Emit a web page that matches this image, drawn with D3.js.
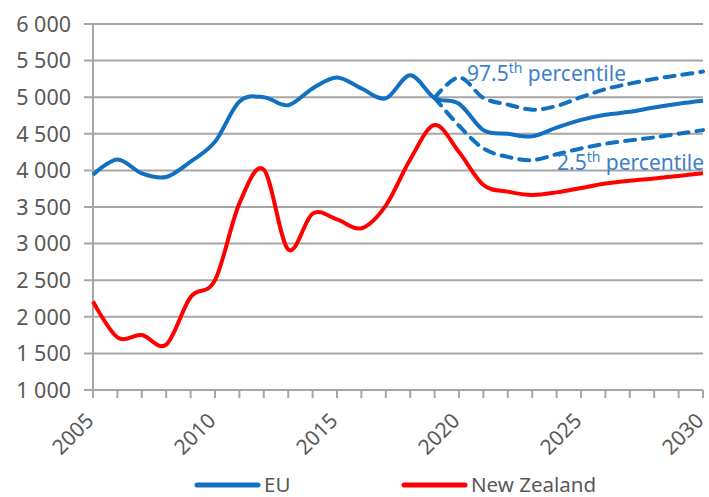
<!DOCTYPE html>
<html>
<head>
<meta charset="utf-8">
<script src="https://cdn.jsdelivr.net/npm/d3@7"></script>
<style>
  body { margin: 0; background: #fff; }
  svg text { font-family: "Noto Sans", sans-serif; }
</style>
</head>
<body>
<div id="chart"></div>
<script>
// years on the x axis
var years = [2005, 2006, 2007, 2008, 2009, 2010, 2011, 2012, 2013, 2014, 2015, 2016, 2017,
             2018, 2019, 2020, 2021, 2022, 2023, 2024, 2025, 2026, 2027, 2028, 2029, 2030];
var projYears = [2019, 2020, 2021, 2022, 2023, 2024, 2025, 2026, 2027, 2028, 2029, 2030];

// EU (history + median projection) and New Zealand
var eu = [3940, 4150, 3960, 3910, 4120, 4390, 4940, 5000, 4890, 5120, 5270, 5120, 4985,
          5300, 4990, 4910, 4550, 4500, 4465, 4585, 4690, 4760, 4800, 4860, 4910, 4950];
var nz = [2210, 1720, 1750, 1620, 2270, 2500, 3550, 4010, 2920, 3410, 3330, 3210, 3520,
          4150, 4620, 4250, 3800, 3710, 3665, 3700, 3760, 3820, 3860, 3890, 3925, 3960];

// EU percentile bands, from 2019
var p975 = [4990, 5270, 4990, 4900, 4830, 4880, 5000, 5110, 5185, 5250, 5300, 5350];
var p25 = [4990, 4610, 4300, 4185, 4140, 4220, 4300, 4365, 4410, 4450, 4500, 4550];

var yTicks = [1000, 1500, 2000, 2500, 3000, 3500, 4000, 4500, 5000, 5500, 6000];
var xLabels = [2005, 2010, 2015, 2020, 2025, 2030];
var seriesNames = ["EU", "New Zealand"];

var blue = "#1170c0", red = "#ff0000", grey = "#a6a6a6", textCol = "#595959", noteCol = "#3f7fca";

var width = 709, height = 497;
var margin = {top: 24, right: 6, bottom: 107, left: 93};

var x = d3.scaleLinear().domain([2005, 2030]).range([margin.left, width - margin.right]);
var y = d3.scaleLinear().domain([1000, 6000]).range([height - margin.bottom, margin.top]);

var fmt = d3.formatLocale({decimal: ".", thousands: "\u00a0", grouping: [3], currency: ["", ""]}).format(",d");

var svg = d3.select("#chart").append("svg")
    .attr("width", width)
    .attr("height", height);

// gridlines
svg.append("g").selectAll("line")
  .data(yTicks)
  .enter().append("line")
    .attr("x1", x(2005) - 9).attr("x2", x(2030))
    .attr("y1", function(d) { return y(d); }).attr("y2", function(d) { return y(d); })
    .attr("stroke", grey).attr("stroke-width", 2);

// y axis line
svg.append("line")
  .attr("x1", x(2005)).attr("x2", x(2005))
  .attr("y1", y(6000)).attr("y2", y(1000) + 8)
  .attr("stroke", grey).attr("stroke-width", 2);

// x ticks every year
svg.append("g").selectAll("line")
  .data(years)
  .enter().append("line")
    .attr("x1", function(d) { return x(d); }).attr("x2", function(d) { return x(d); })
    .attr("y1", y(1000)).attr("y2", y(1000) + 8)
    .attr("stroke", grey).attr("stroke-width", 2);

// y labels
svg.append("g").selectAll("text")
  .data(yTicks)
  .enter().append("text")
    .attr("x", 71)
    .attr("y", function(d) { return y(d); })
    .attr("dy", "0.36em")
    .attr("text-anchor", "end")
    .attr("font-size", 21.5)
    .attr("fill", textCol)
    .text(function(d) { return fmt(d); });

// x labels, rotated
svg.append("g").selectAll("text")
  .data(xLabels)
  .enter().append("text")
    .attr("transform", function(d) { return "translate(" + (x(d) + 2) + "," + (y(1000) + 32) + ") rotate(-45)"; })
    .attr("text-anchor", "end")
    .attr("font-size", 21)
    .attr("fill", textCol)
    .text(function(d) { return d; });

var curve = d3.curveCatmullRom.alpha(0);

var line = d3.line()
    .x(function(d) { return x(d[0]); })
    .y(function(d) { return y(d[1]); })
    .curve(curve);

function pairs(xs, vs) { return xs.map(function(v, i) { return [v, vs[i]]; }); }

// percentile bands (dashed)
[p975, p25].forEach(function(vals) {
  svg.append("path")
    .attr("d", line(pairs(projYears, vals)))
    .attr("fill", "none")
    .attr("stroke", blue)
    .attr("stroke-width", 4)
    .attr("stroke-dasharray", "10,8")
    .attr("stroke-linecap", "round");
});

svg.append("path")
  .attr("d", line(pairs(years, nz)))
  .attr("fill", "none").attr("stroke", red).attr("stroke-width", 4);

svg.append("path")
  .attr("d", line(pairs(years, eu)))
  .attr("fill", "none").attr("stroke", blue).attr("stroke-width", 4);

// percentile notes
function note(tx, ty, num) {
  var t = svg.append("text")
    .attr("x", tx).attr("y", ty)
    .attr("font-size", 21)
    .attr("fill", noteCol);
  t.append("tspan").text(num);
  t.append("tspan").attr("font-size", 14).attr("dy", -8).text("th");
  t.append("tspan").attr("dy", 8).text(" percentile");
}
note(467, 81, "97.5");
note(557, 170, "2.5");

// legend
var legendX = [197, 404];
var legendColors = [blue, red];
var lg = svg.append("g").selectAll("g")
  .data(seriesNames)
  .enter().append("g")
    .attr("transform", function(d, i) { return "translate(" + legendX[i] + ",485)"; });
lg.append("line")
  .attr("x1", 0).attr("x2", 61)
  .attr("stroke", function(d, i) { return legendColors[i]; })
  .attr("stroke-width", 5)
  .attr("stroke-linecap", "round");
lg.append("text")
  .attr("x", 67).attr("dy", "0.34em")
  .attr("font-size", 20.5)
  .attr("fill", textCol)
  .text(function(d) { return d; });
</script>
</body>
</html>
